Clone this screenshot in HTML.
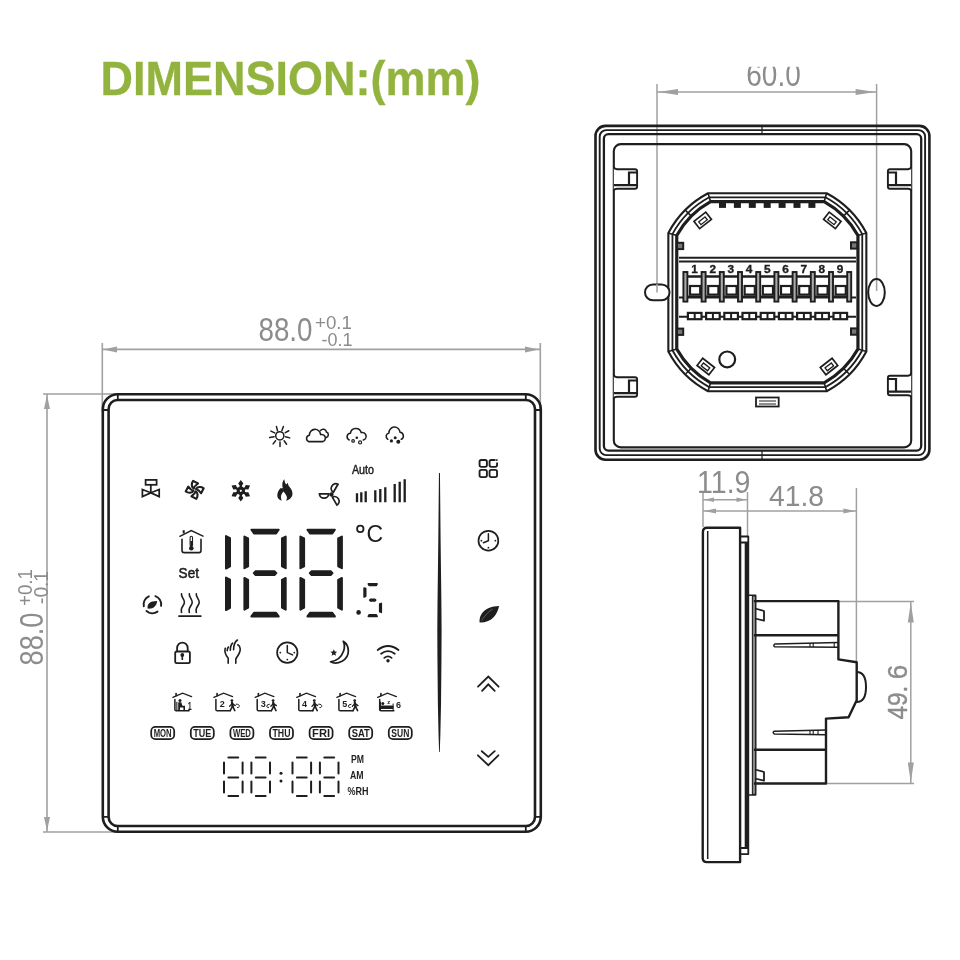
<!DOCTYPE html><html><head><meta charset="utf-8"><style>html,body{margin:0;padding:0;background:#fff}svg{display:block;will-change:transform}text{font-family:"Liberation Sans",sans-serif}</style></head><body>
<svg width="960" height="960" viewBox="0 0 960 960">
<rect width="960" height="960" fill="#fff"/>
<text x="100.4" y="94.8" font-size="48.8" font-weight="bold" fill="#92b33d" stroke="#92b33d" stroke-width="0.3" textLength="380" lengthAdjust="spacingAndGlyphs">DIMENSION:(mm)</text>
<g stroke="#a0a0a0" stroke-width="1.6" fill="none">
<line x1="102.3" y1="343" x2="102.3" y2="412"/>
<line x1="540.3" y1="343" x2="540.3" y2="412"/>
<line x1="102" y1="349.4" x2="540" y2="349.4"/>
<line x1="43" y1="394" x2="118" y2="394"/>
<line x1="43" y1="832" x2="118" y2="832"/>
<line x1="47" y1="394" x2="47" y2="832"/>
</g>
<path d="M103,349.4 L117,346.4 L117,352.4 Z" fill="#a0a0a0"/>
<path d="M539,349.4 L525,346.4 L525,352.4 Z" fill="#a0a0a0"/>
<path d="M47,395 L44,409 L50,409 Z" fill="#a0a0a0"/>
<path d="M47,831 L44,817 L50,817 Z" fill="#a0a0a0"/>
<g fill="#8c8c8c">
<text x="258.5" y="340.8" font-size="33" textLength="54" lengthAdjust="spacingAndGlyphs">88.0</text>
<text x="315" y="329" font-size="18" textLength="37" lengthAdjust="spacingAndGlyphs">+0.1</text>
<text x="321.5" y="345.8" font-size="18" textLength="31" lengthAdjust="spacingAndGlyphs">-0.1</text>
<g transform="translate(43.4,665.5) rotate(-90)"><text x="0" y="0" font-size="33" textLength="53" lengthAdjust="spacingAndGlyphs">88.0</text></g>
<g transform="translate(31.5,606) rotate(-90)"><text x="0" y="0" font-size="19.5" textLength="37" lengthAdjust="spacingAndGlyphs">+0.1</text></g>
<g transform="translate(48.3,604) rotate(-90)"><text x="0" y="0" font-size="19.5" textLength="33" lengthAdjust="spacingAndGlyphs">-0.1</text></g>
</g>
<g stroke="#1e1e1e" stroke-width="2.6" fill="none">
<rect x="102.8" y="394.2" width="438" height="437.6" rx="15" ry="15"/>
<rect x="108.6" y="400" width="426.4" height="426" rx="9" ry="9"/>
<path d="M102.8,410 H108.6 M117.8,394.2 V400 M525.8,394.2 V400 M540.8,410 H535 M102.8,816.8 H108.6 M117.8,831.8 V826 M525.8,831.8 V826 M540.8,816.8 H535" stroke-width="1.8"/>
</g>
<path d="M438.95,473 L438.30,540 L437.55,600 L437.30,630 L437.45,660 L437.90,705 L438.55,735 L439.10,752 L439.80,752 L440.35,735 L441.00,705 L441.45,660 L441.60,630 L441.35,600 L440.60,540 L439.95,473 Z" fill="#1e1e1e"/>
<path d="M226.00,536.07 L230.00,538.20 L230.00,566.40 L226.00,568.53 Z M226.00,577.57 L230.00,579.70 L230.00,607.90 L226.00,610.03 Z" fill="#1e1e1e" stroke="#1e1e1e" stroke-width="2.0" stroke-linejoin="round"/>
<path d="M251.42,529.80 L278.68,529.80 L276.08,533.50 L254.02,533.50 Z M251.42,616.40 L278.68,616.40 L276.08,612.70 L254.02,612.70 Z M253.76,573.10 L255.61,571.25 L274.49,571.25 L276.34,573.10 L274.49,574.95 L255.61,574.95 Z M244.40,536.56 L248.10,538.50 L248.10,566.25 L244.40,568.19 Z M244.40,578.01 L248.10,579.95 L248.10,607.70 L244.40,609.64 Z M285.70,536.56 L282.00,538.50 L282.00,566.25 L285.70,568.19 Z M285.70,578.01 L282.00,579.95 L282.00,607.70 L285.70,609.64 Z" fill="#1e1e1e" stroke="#1e1e1e" stroke-width="2.0" stroke-linejoin="round"/>
<path d="M307.42,529.80 L334.88,529.80 L332.28,533.50 L310.02,533.50 Z M307.42,616.40 L334.88,616.40 L332.28,612.70 L310.02,612.70 Z M309.76,573.10 L311.61,571.25 L330.69,571.25 L332.54,573.10 L330.69,574.95 L311.61,574.95 Z M300.40,536.56 L304.10,538.50 L304.10,566.25 L300.40,568.19 Z M300.40,578.01 L304.10,579.95 L304.10,607.70 L300.40,609.64 Z M341.90,536.56 L338.20,538.50 L338.20,566.25 L341.90,568.19 Z M341.90,578.01 L338.20,579.95 L338.20,607.70 L341.90,609.64 Z" fill="#1e1e1e" stroke="#1e1e1e" stroke-width="2.0" stroke-linejoin="round"/>
<path d="M368.29,583.90 L377.11,583.90 L376.31,585.50 L369.09,585.50 Z M368.29,616.40 L377.11,616.40 L376.31,614.80 L369.09,614.80 Z M369.73,600.15 L370.53,599.35 L374.87,599.35 L375.67,600.15 L374.87,600.95 L370.53,600.95 Z M364.10,587.95 L365.70,588.55 L365.70,596.30 L364.10,596.90 Z M381.30,603.40 L379.70,604.00 L379.70,611.75 L381.30,612.35 Z" fill="#1e1e1e" stroke="#1e1e1e" stroke-width="1.6" stroke-linejoin="round"/>
<circle cx="358.6" cy="612.4" r="2.3" fill="#1e1e1e"/>
<circle cx="360.3" cy="528.9" r="3.2" fill="none" stroke="#1e1e1e" stroke-width="1.8"/>
<text x="366.5" y="542.3" font-size="23" fill="#1e1e1e">C</text>
<path d="M228.4,757.6 H238.2 M228.4,777.5000000000001 H238.2 M228.4,796.0 H238.2 M224.0,762.5 V773.4000000000001 M224.0,781.4000000000001 V792.4 M242.6,762.5 V773.4000000000001 M242.6,781.4000000000001 V792.4" stroke="#1e1e1e" stroke-width="2.0" stroke-linecap="round" fill="none"/>
<path d="M255.8,757.6 H265.6 M255.8,777.5000000000001 H265.6 M255.8,796.0 H265.6 M251.4,762.5 V773.4000000000001 M251.4,781.4000000000001 V792.4 M270.0,762.5 V773.4000000000001 M270.0,781.4000000000001 V792.4" stroke="#1e1e1e" stroke-width="2.0" stroke-linecap="round" fill="none"/>
<path d="M296.9,757.6 H306.70000000000005 M296.9,777.5000000000001 H306.70000000000005 M296.9,796.0 H306.70000000000005 M292.5,762.5 V773.4000000000001 M292.5,781.4000000000001 V792.4 M311.1,762.5 V773.4000000000001 M311.1,781.4000000000001 V792.4" stroke="#1e1e1e" stroke-width="2.0" stroke-linecap="round" fill="none"/>
<path d="M324.29999999999995,757.6 H334.1 M324.29999999999995,777.5000000000001 H334.1 M324.29999999999995,796.0 H334.1 M319.9,762.5 V773.4000000000001 M319.9,781.4000000000001 V792.4 M338.5,762.5 V773.4000000000001 M338.5,781.4000000000001 V792.4" stroke="#1e1e1e" stroke-width="2.0" stroke-linecap="round" fill="none"/>
<circle cx="281" cy="773.2" r="1.5" fill="#1e1e1e"/><circle cx="281" cy="781" r="1.5" fill="#1e1e1e"/>
<g fill="#1e1e1e" font-weight="bold">
<text x="351" y="763" font-size="10" textLength="13" lengthAdjust="spacingAndGlyphs">PM</text>
<text x="350" y="778.6" font-size="10" textLength="13.6" lengthAdjust="spacingAndGlyphs">AM</text>
<text x="347.5" y="795.3" font-size="11.5" textLength="21" lengthAdjust="spacingAndGlyphs">%RH</text>
</g>
<text x="178.6" y="578.4" font-size="15" fill="#1e1e1e" stroke="#1e1e1e" stroke-width="0.55" textLength="20.4" lengthAdjust="spacingAndGlyphs">Set</text>
<text x="351.9" y="474.4" font-size="12" fill="#1e1e1e" stroke="#1e1e1e" stroke-width="0.45" textLength="22" lengthAdjust="spacingAndGlyphs">Auto</text>
<rect x="151.20000000000002" y="726.9" width="23" height="12.2" rx="4.2" fill="none" stroke="#1e1e1e" stroke-width="1.75"/>
<text x="162.70000000000002" y="737" font-size="10.5" font-weight="bold" fill="#1e1e1e" text-anchor="middle" textLength="18" lengthAdjust="spacingAndGlyphs">MON</text>
<rect x="190.8" y="726.9" width="23" height="12.2" rx="4.2" fill="none" stroke="#1e1e1e" stroke-width="1.75"/>
<text x="202.3" y="737" font-size="10.5" font-weight="bold" fill="#1e1e1e" text-anchor="middle" textLength="18" lengthAdjust="spacingAndGlyphs">TUE</text>
<rect x="230.4" y="726.9" width="23" height="12.2" rx="4.2" fill="none" stroke="#1e1e1e" stroke-width="1.75"/>
<text x="241.9" y="737" font-size="10.5" font-weight="bold" fill="#1e1e1e" text-anchor="middle" textLength="18" lengthAdjust="spacingAndGlyphs">WED</text>
<rect x="270.0" y="726.9" width="23" height="12.2" rx="4.2" fill="none" stroke="#1e1e1e" stroke-width="1.75"/>
<text x="281.5" y="737" font-size="10.5" font-weight="bold" fill="#1e1e1e" text-anchor="middle" textLength="18" lengthAdjust="spacingAndGlyphs">THU</text>
<rect x="309.6" y="726.9" width="23" height="12.2" rx="4.2" fill="none" stroke="#1e1e1e" stroke-width="1.75"/>
<text x="321.1" y="737" font-size="10.5" font-weight="bold" fill="#1e1e1e" text-anchor="middle" textLength="18" lengthAdjust="spacingAndGlyphs">FRI</text>
<rect x="349.2" y="726.9" width="23" height="12.2" rx="4.2" fill="none" stroke="#1e1e1e" stroke-width="1.75"/>
<text x="360.7" y="737" font-size="10.5" font-weight="bold" fill="#1e1e1e" text-anchor="middle" textLength="18" lengthAdjust="spacingAndGlyphs">SAT</text>
<rect x="388.8" y="726.9" width="23" height="12.2" rx="4.2" fill="none" stroke="#1e1e1e" stroke-width="1.75"/>
<text x="400.3" y="737" font-size="10.5" font-weight="bold" fill="#1e1e1e" text-anchor="middle" textLength="18" lengthAdjust="spacingAndGlyphs">SUN</text>
<g stroke="#1e1e1e" stroke-width="1.5" stroke-linecap="round" fill="none">
<circle cx="279.8" cy="435.8" r="4.1"/>
<path d="M276.4,426.4 L277.5,430.75 M283.4,426.4 L281.9,430.4 M288.75,430.75 L285.3,432.6 M289.7,437.9 L285.6,436.7 M286.6,444.2 L284.1,440.75 M280,446.4 L280,442 M273.1,443.9 L275.6,440.75 M269.7,437.6 L274.1,436.7 M270.9,431.1 L274.7,432.9"/>
</g>
<g stroke="#1e1e1e" stroke-width="1.55" fill="none" stroke-linecap="round" stroke-linejoin="round">
<path d="M308.6,441.6 A3.3,3.3 0 0 1 309.4,435.3 A5.6,5.6 0 0 1 320.6,434.6 A3.6,3.6 0 0 1 322.8,441.6 Z"/>
<path d="M320.4,430.6 A3.4,3.4 0 0 1 326.5,432.1 A2.8,2.8 0 0 1 326.4,437.4"/>
<path d="M349.2,440 A3.5,3.5 0 0 1 350.4,433.3 A5.5,5.5 0 0 1 361.2,432.6 A3.7,3.7 0 0 1 363.3,440"/>
<path d="M387.8,439.3 A3.5,3.5 0 0 1 389,432.9 A5.5,5.5 0 0 1 400,432.3 A3.7,3.7 0 0 1 401.3,439.3"/>
<circle cx="353.1" cy="440.9" r="1.3" stroke-width="1.2"/><circle cx="360.1" cy="442.4" r="1.5" stroke-width="1.2"/>
</g>
<g fill="#1e1e1e"><circle cx="356.8" cy="437.8" r="1.3"/><circle cx="391.4" cy="440.9" r="1.6"/><circle cx="395.2" cy="437.8" r="1.5"/><circle cx="398.3" cy="441.7" r="2"/></g>
<g stroke="#1e1e1e" stroke-width="1.75" fill="none" stroke-linejoin="miter">
<rect x="145.6" y="479.9" width="11" height="4.9"/>
<path d="M150.8,484.8 V492.7"/>
<path d="M142.4,489.5 L150.8,492.8 L142.4,496.6 Z M159.2,489.5 L150.8,492.8 L159.2,496.6 Z"/>
</g>
<g transform="translate(194.7,489.9)" stroke="#1e1e1e" stroke-width="2.1" fill="none" stroke-linejoin="round">
<path transform="rotate(0)" d="M-0.9,-1.3 C-3.2,-2.6 -3.6,-6.2 -1.6,-9.0 L3.3,-6.4 C1.3,-5.0 -0.5,-3.4 -0.9,-1.3 Z"/>
<path transform="rotate(90)" d="M-0.9,-1.3 C-3.2,-2.6 -3.6,-6.2 -1.6,-9.0 L3.3,-6.4 C1.3,-5.0 -0.5,-3.4 -0.9,-1.3 Z"/>
<path transform="rotate(180)" d="M-0.9,-1.3 C-3.2,-2.6 -3.6,-6.2 -1.6,-9.0 L3.3,-6.4 C1.3,-5.0 -0.5,-3.4 -0.9,-1.3 Z"/>
<path transform="rotate(270)" d="M-0.9,-1.3 C-3.2,-2.6 -3.6,-6.2 -1.6,-9.0 L3.3,-6.4 C1.3,-5.0 -0.5,-3.4 -0.9,-1.3 Z"/>
</g>
<g transform="translate(240.8,490.8)" fill="#1e1e1e">
<path transform="rotate(0)" d="M-1.2,0 L-1.2,-5.2 L-2.6,-7.2 L0,-10.7 L2.6,-7.2 L1.2,-5.2 L1.2,0 Z"/>
<path transform="rotate(60)" d="M-1.2,0 L-1.2,-5.2 L-2.6,-7.2 L0,-10.7 L2.6,-7.2 L1.2,-5.2 L1.2,0 Z"/>
<path transform="rotate(120)" d="M-1.2,0 L-1.2,-5.2 L-2.6,-7.2 L0,-10.7 L2.6,-7.2 L1.2,-5.2 L1.2,0 Z"/>
<path transform="rotate(180)" d="M-1.2,0 L-1.2,-5.2 L-2.6,-7.2 L0,-10.7 L2.6,-7.2 L1.2,-5.2 L1.2,0 Z"/>
<path transform="rotate(240)" d="M-1.2,0 L-1.2,-5.2 L-2.6,-7.2 L0,-10.7 L2.6,-7.2 L1.2,-5.2 L1.2,0 Z"/>
<path transform="rotate(300)" d="M-1.2,0 L-1.2,-5.2 L-2.6,-7.2 L0,-10.7 L2.6,-7.2 L1.2,-5.2 L1.2,0 Z"/>
<circle r="4.2" />
<circle r="1.1" fill="#fff"/>
</g>
<path fill="#1e1e1e" d="M284.5,479.2 C282,481.2 282.1,485 282.8,488.2 L280.3,488.3 C278.5,490.5 276.8,493.5 277.4,496.5 C277.9,498.6 279.5,500.1 281.8,500.7 C281,499 280.6,497 281.3,495 C281.9,493.5 282.9,492.3 283.5,491.6 C284.6,493 286.4,495 286.9,497 C287.2,498.5 286.6,499.9 285.8,500.7 C289,500 291.8,498 292.4,495 C293,491.5 290.7,488 288.6,485.8 L287.7,482.8 L286.3,484.6 C285.1,483 284.3,481.2 284.5,479.2 Z"/>
<g transform="translate(331.45,494.4)" stroke="#1e1e1e" stroke-width="1.75" fill="none">
<path transform="rotate(0)" d="M-12,-0.6 H-2.8 A4.6,4.4 0 0 1 -12,-0.6 Z"/>
<path transform="rotate(120)" d="M-12,-0.6 H-2.8 A4.6,4.4 0 0 1 -12,-0.6 Z"/>
<path transform="rotate(240)" d="M-12,-0.6 H-2.8 A4.6,4.4 0 0 1 -12,-0.6 Z"/>
<circle r="1.3" fill="#1e1e1e"/>
</g>
<path stroke="#1e1e1e" stroke-width="2.3" d="M357,493.3 V502.3 M361.3,492.3 V502.3 M365.7,491.3 V502.3 M375.3,490.3 V502.3 M380.3,489 V502.3 M385.3,487.3 V502.3 M394.7,484 V502.3 M399.7,481.7 V502.3 M404.7,479.3 V502.3"/>
<g stroke="#1e1e1e" stroke-width="1.4" fill="none" stroke-linecap="round">
<path d="M179.8,536.3 L191.3,530.5 L203,536.2"/>
<path d="M182,539.2 V550.5 Q182,552.6 184.2,552.6 H198.9 Q201,552.6 201,550.5 V539.4" stroke-width="1.6"/>
<rect x="182.7" y="530.2" width="2" height="3.2" fill="#1e1e1e" stroke="none"/>
<rect x="190.1" y="536.2" width="2.4" height="10" rx="1.2" stroke-width="1.1"/>
</g>
<circle cx="191.3" cy="548.2" r="2.3" fill="#1e1e1e"/><rect x="190.4" y="541" width="1.8" height="6" fill="#1e1e1e"/>
<g stroke="#1e1e1e" stroke-width="1.6" fill="none" stroke-linecap="round">
<path d="M181.5,593.9 C181.0,597 184.4,599 184.4,602.3 C184.4,605.2 181.2,607 181.3,610 L181.5,612.5"/>
<path d="M189.3,593.9 C188.8,597 192.20000000000002,599 192.20000000000002,602.3 C192.20000000000002,605.2 189.0,607 189.10000000000002,610 L189.3,612.5"/>
<path d="M196.3,593.9 C195.8,597 199.20000000000002,599 199.20000000000002,602.3 C199.20000000000002,605.2 196.0,607 196.10000000000002,610 L196.3,612.5"/>
<path d="M179,616.1 H200.8" stroke-width="1.9"/>
</g>
<path stroke="#1e1e1e" stroke-width="1.9" fill="none" stroke-linecap="round" d="M143.79,606.23 A8.8,8.8 0 0 1 148.82,596.36 M155.41,596.13 A8.8,8.8 0 0 1 161.07,605.93 M157.45,611.61 A8.8,8.8 0 0 1 146.51,610.94"/>
<path fill="#1e1e1e" d="M147.6,608.6 C146.8,603.5 150.5,600.8 157.1,600.9 C156.9,605.5 153.2,609.3 147.6,608.6 Z"/>
<g stroke="#1e1e1e" stroke-width="1.8" fill="none">
<rect x="175.2" y="651.5" width="14.7" height="11.6" rx="1.6"/>
<path d="M177.1,651.5 V648.2 A5.3,5.6 0 0 1 187.7,648.2 V651.5"/>
</g>
<circle cx="182.3" cy="655" r="1.9" fill="#1e1e1e"/><rect x="181.5" y="655" width="1.6" height="5" fill="#1e1e1e"/>
<g stroke="#1e1e1e" stroke-width="1.6" fill="none" stroke-linecap="round">
<path d="M225.2,648.3 C224.3,652 225.8,655.5 228.2,658.2 V663.3"/>
<path d="M235.8,663.3 V659 C236.8,656.5 240.6,653.5 240.2,648.8 C240,646.5 238.8,645.3 237.8,644.8"/>
<path d="M227.2,650.8 C227.2,649 227.8,647.5 228.5,647"/>
<path d="M230.3,650.3 C230.4,647 231.2,644.5 232.6,643.2"/>
<path d="M233.6,649.8 C233.5,645.5 235,641.8 237.4,640"/>
</g>
<g stroke="#1e1e1e" stroke-width="1.7" fill="none" stroke-linecap="round"><circle cx="287.3" cy="652.6" r="10.2"/><path d="M287.3,645.6 V652.6 L292.6,654.9" stroke-width="1.5"/></g><g fill="#1e1e1e"><circle cx="280.3" cy="652.6" r="0.9"/><circle cx="294.3" cy="652.6" r="0.9"/><circle cx="287.3" cy="659.6" r="0.9"/></g>
<g stroke="#1e1e1e" stroke-width="1.7" fill="none" stroke-linecap="round"><circle cx="488.4" cy="540.7" r="9.9"/><path d="M488.4,533.7 V540.7 L483.4,542.8" stroke-width="1.5"/></g><g fill="#1e1e1e"><circle cx="481.4" cy="540.7" r="0.9"/><circle cx="495.4" cy="540.7" r="0.9"/><circle cx="488.4" cy="547.7" r="0.9"/></g>
<path stroke="#1e1e1e" stroke-width="1.75" fill="none" stroke-linejoin="round" d="M343.3,641.3 C349.5,645.5 351,656 342,661.3 C337.5,663.6 333,663.2 330.6,661.8 C337,660.8 341.6,656.5 343.4,651.5 C344.7,648 344.6,644 343.3,641.3 Z"/>
<path fill="#1e1e1e" d="M333.80,649.20 L334.80,651.42 L337.22,651.69 L335.42,653.33 L335.92,655.71 L333.80,654.50 L331.68,655.71 L332.18,653.33 L330.38,651.69 L332.80,651.42 Z"/>
<g stroke="#1e1e1e" stroke-width="1.8" fill="none" stroke-linecap="round">
<path d="M377.7,650 Q388,642 398.5,650"/>
<path d="M381.1,653.8 Q388,648.4 394.8,653.8"/>
<path d="M384.3,657.9 Q388,654.9 391.6,657.9"/>
</g>
<circle cx="388" cy="660.7" r="1.7" fill="#1e1e1e"/>
<g stroke="#1e1e1e" stroke-width="1.3" fill="none" stroke-linecap="round"><path d="M172.9,697.4 L182.6,693.2 L191.6,696.6"/><path d="M174.9,699.5 V709.5 Q174.9,710.8 176.20000000000002,710.8 H189.1" stroke-width="1.5"/><path d="M176.1,693.6 V695.8" stroke-width="1.6"/></g><g fill="#1e1e1e"><circle cx="180" cy="700.4" r="1.5"/><path d="M178.2,702.2 H181.3 L182.4,705.8 H185 V710.6 H183.4 V707.6 H180 V710.6 H178.2 Z"/><rect x="176.3" y="701.8" width="1.1" height="8.8"/></g><text x="189.8" y="709.6" font-size="10" font-weight="bold" fill="#1e1e1e" text-anchor="middle" textLength="4" lengthAdjust="spacingAndGlyphs">1</text>
<g stroke="#1e1e1e" stroke-width="1.3" fill="none" stroke-linecap="round"><path d="M213.9,697.4 L223.6,693.2 L232.6,696.6"/><path d="M215.9,699.5 V709.5 Q215.9,710.8 217.20000000000002,710.8 H230.1" stroke-width="1.5"/><path d="M217.1,693.6 V695.8" stroke-width="1.6"/></g><text x="222.3" y="707.2" font-size="9" font-weight="bold" fill="#1e1e1e" text-anchor="middle">2</text><g stroke="#1e1e1e" fill="none" stroke-linecap="round"><path d="M232.0,702.6 L232.6,706.4" stroke-width="2.3"/><path d="M232.6,706.2 L230.2,710.6 M232.6,706.2 L234.79999999999998,710.6" stroke-width="1.6"/><path d="M232.1,703.6 L229.6,706.2 M232.29999999999998,703.6 L235.2,705.6" stroke-width="1.3"/></g><circle cx="231.89999999999998" cy="700.6" r="1.4" fill="#1e1e1e"/><path d="M235.8,704.2 Q239.8,704 239.20000000000002,706.6 Q238.60000000000002,708 237.0,707.6" stroke="#1e1e1e" stroke-width="1" fill="none"/>
<g stroke="#1e1e1e" stroke-width="1.3" fill="none" stroke-linecap="round"><path d="M255.2,697.4 L264.9,693.2 L273.9,696.6"/><path d="M257.2,699.5 V709.5 Q257.2,710.8 258.5,710.8 H271.4" stroke-width="1.5"/><path d="M258.4,693.6 V695.8" stroke-width="1.6"/></g><text x="263.2" y="707.2" font-size="9" font-weight="bold" fill="#1e1e1e" text-anchor="middle">3</text><path d="M269.8,704.2 Q266.0,704.6 266.8,706.8 Q267.6,707.8 269.0,707.4" stroke="#1e1e1e" stroke-width="1" fill="none"/><g stroke="#1e1e1e" fill="none" stroke-linecap="round"><path d="M273.2,702.6 L273.79999999999995,706.4" stroke-width="2.3"/><path d="M273.79999999999995,706.2 L271.4,710.6 M273.79999999999995,706.2 L276.0,710.6" stroke-width="1.6"/><path d="M273.29999999999995,703.6 L270.79999999999995,706.2 M273.5,703.6 L276.4,705.6" stroke-width="1.3"/></g><circle cx="273.09999999999997" cy="700.6" r="1.4" fill="#1e1e1e"/>
<g stroke="#1e1e1e" stroke-width="1.3" fill="none" stroke-linecap="round"><path d="M296.8,697.4 L306.5,693.2 L315.5,696.6"/><path d="M298.8,699.5 V709.5 Q298.8,710.8 300.1,710.8 H313.0" stroke-width="1.5"/><path d="M300.0,693.6 V695.8" stroke-width="1.6"/></g><text x="304.6" y="707.2" font-size="9" font-weight="bold" fill="#1e1e1e" text-anchor="middle">4</text><g stroke="#1e1e1e" fill="none" stroke-linecap="round"><path d="M314.40000000000003,702.6 L315.0,706.4" stroke-width="2.3"/><path d="M315.0,706.2 L312.6,710.6 M315.0,706.2 L317.20000000000005,710.6" stroke-width="1.6"/><path d="M314.5,703.6 L312.0,706.2 M314.70000000000005,703.6 L317.6,705.6" stroke-width="1.3"/></g><circle cx="314.3" cy="700.6" r="1.4" fill="#1e1e1e"/><path d="M318.2,704.2 Q322.2,704 321.59999999999997,706.6 Q321.0,708 319.4,707.6" stroke="#1e1e1e" stroke-width="1" fill="none"/>
<g stroke="#1e1e1e" stroke-width="1.3" fill="none" stroke-linecap="round"><path d="M336.9,697.4 L346.59999999999997,693.2 L355.59999999999997,696.6"/><path d="M338.9,699.5 V709.5 Q338.9,710.8 340.2,710.8 H353.09999999999997" stroke-width="1.5"/><path d="M340.09999999999997,693.6 V695.8" stroke-width="1.6"/></g><text x="344.8" y="707.2" font-size="9" font-weight="bold" fill="#1e1e1e" text-anchor="middle">5</text><path d="M351.4,704.2 Q347.59999999999997,704.6 348.4,706.8 Q349.2,707.8 350.59999999999997,707.4" stroke="#1e1e1e" stroke-width="1" fill="none"/><g stroke="#1e1e1e" fill="none" stroke-linecap="round"><path d="M354.8,702.6 L355.4,706.4" stroke-width="2.3"/><path d="M355.4,706.2 L353,710.6 M355.4,706.2 L357.6,710.6" stroke-width="1.6"/><path d="M354.9,703.6 L352.4,706.2 M355.1,703.6 L358,705.6" stroke-width="1.3"/></g><circle cx="354.7" cy="700.6" r="1.4" fill="#1e1e1e"/>
<g stroke="#1e1e1e" stroke-width="1.3" fill="none" stroke-linecap="round"><path d="M377.7,697.4 L387.4,693.2 L396.4,696.6"/><path d="M379.7,699.5 V709.5 Q379.7,710.8 381.0,710.8 H393.9" stroke-width="1.5"/><path d="M380.9,693.6 V695.8" stroke-width="1.6"/></g><g fill="#1e1e1e"><rect x="380.3" y="705.6" width="13.2" height="3.4" rx="0.8"/><circle cx="382.8" cy="703.6" r="1.5"/><rect x="379.8" y="701.8" width="1.2" height="8.8"/><rect x="392.6" y="703.6" width="1" height="7"/></g><text x="387.2" y="703.6" font-size="6" font-weight="bold" fill="#1e1e1e">z</text><text x="398.6" y="707.6" font-size="9" font-weight="bold" fill="#1e1e1e" text-anchor="middle">6</text>
<g stroke="#1e1e1e" stroke-width="1.85" fill="none">
<rect x="479.55" y="459.95" width="7.35" height="6.9" rx="1.8"/>
<path d="M495.5,459.95 H491.3 Q489.55,459.95 489.55,461.7 V465.1 Q489.55,466.85 491.3,466.85 H495.3 Q497.05,466.85 497.05,465.1 V462.5"/>
<rect x="479.55" y="469.85" width="7.35" height="7.3" rx="1.8"/>
<rect x="489.55" y="469.85" width="7.5" height="7.3" rx="1.8"/>
</g>
<rect x="496" y="459.3" width="1.6" height="1.6" fill="#1e1e1e"/>
<path fill="#1e1e1e" d="M479.6,622.6 C478.8,615 484,606.5 499.1,606 C497.3,614 492.5,622.8 479.6,622.6 Z"/>
<path d="M481.5,620.5 C484.5,616 488,612 492.5,609" stroke="#888" stroke-width="0.6" fill="none"/>
<g stroke="#1e1e1e" stroke-width="1.8" fill="none" stroke-linecap="round" stroke-linejoin="miter">
<path d="M478,686.7 L488.3,676.5 L498.6,686.7 M482.1,690.9 L488.3,684.3 L494.7,690.9"/>
<path d="M481.8,751.2 L488.3,756.9 L494.7,751.2 M477.9,755.3 L488.3,765.2 L498.4,755.3"/>
</g>
<g stroke="#a0a0a0" stroke-width="1.5" fill="none">
<line x1="657" y1="84" x2="657" y2="292.5"/>
<line x1="876.6" y1="84" x2="876.6" y2="291"/>
<line x1="657" y1="92" x2="876.6" y2="92"/>
</g>
<path d="M658,92 L678,89 L678,95 Z" fill="#a0a0a0"/>
<path d="M875.6,92 L855.6,89 L855.6,95 Z" fill="#a0a0a0"/>
<text x="746.3" y="85.9" font-size="33" fill="#8c8c8c" textLength="54.5" lengthAdjust="spacingAndGlyphs">60.0</text>
<rect x="700" y="50" width="120" height="16.8" fill="#fff"/>
<g stroke="#1e1e1e" fill="none">
<rect x="595.5" y="125.9" width="333.9" height="333.8" rx="10" stroke-width="2.6"/>
<rect x="599.7" y="130.1" width="325.4" height="325" rx="6.5" stroke-width="1.9"/>
<rect x="603.9" y="134.2" width="317.3" height="316.4" rx="4.5" stroke-width="2.3"/>
<rect x="613.8" y="144.1" width="297.4" height="303.3" rx="7" stroke-width="2.1"/>
<path d="M762,126 V134 M762,450.6 V459.7" stroke-width="1.2"/>
</g>
<g stroke="#1e1e1e" fill="#fff" stroke-width="1.9"><path d="M613.8,166.5 Q614,169.2 617,169.2 H635 Q637.1,169.2 637.1,171.5 V186.5 Q637.1,188.8 635,188.8 H617.5 Q614,188.8 613.8,191"/><path d="M614,185.2 H637 M629,185.2 V172.5 H637" stroke-width="2.2" fill="none"/></g>
<g stroke="#1e1e1e" fill="#fff" stroke-width="1.9"><path d="M613.8,374.5 Q614,377.2 617,377.2 H635 Q637.1,377.2 637.1,379.5 V394.5 Q637.1,396.8 635,396.8 H617.5 Q614,396.8 613.8,399"/><path d="M614,393.2 H637 M629,393.2 V380.5 H637" stroke-width="2.2" fill="none"/></g>
<g transform="translate(1525,0) scale(-1,1)"><g stroke="#1e1e1e" fill="#fff" stroke-width="1.9"><path d="M613.8,166.5 Q614,169.2 617,169.2 H635 Q637.1,169.2 637.1,171.5 V186.5 Q637.1,188.8 635,188.8 H617.5 Q614,188.8 613.8,191"/><path d="M614,185.2 H637 M629,185.2 V172.5 H637" stroke-width="2.2" fill="none"/></g><g stroke="#1e1e1e" fill="#fff" stroke-width="1.9"><path d="M613.8,373.0 Q614,375.7 617,375.7 H635 Q637.1,375.7 637.1,378.0 V393.0 Q637.1,395.3 635,395.3 H617.5 Q614,395.3 613.8,397.5"/><path d="M614,391.7 H637 M629,391.7 V379.0 H637" stroke-width="2.2" fill="none"/></g></g>
<g fill="none" stroke="#1e1e1e">
<path d="M708.0500000000001,193.2 H826.65 A95,95 0 0 1 866.35,232.89999999999998 V351.5 A95,95 0 0 1 826.65,391.2 H708.0500000000001 A95,95 0 0 1 668.35,351.5 V232.89999999999998 A95,95 0 0 1 708.0500000000001,193.2 Z" stroke-width="2.1"/>
<path d="M709.25,197.29999999999998 H825.45 A90.8,90.8 0 0 1 862.25,234.1 V350.3 A90.8,90.8 0 0 1 825.45,387.1 H709.25 A90.8,90.8 0 0 1 672.45,350.3 V234.1 A90.8,90.8 0 0 1 709.25,197.29999999999998 Z" stroke-width="1.8"/>
<path d="M710.5500000000001,201.6 H824.15 A86.5,86.5 0 0 1 857.95,235.39999999999998 V349.0 A86.5,86.5 0 0 1 824.15,382.79999999999995 H710.5500000000001 A86.5,86.5 0 0 1 676.75,349.0 V235.39999999999998 A86.5,86.5 0 0 1 710.5500000000001,201.6 Z" stroke-width="3.2"/>
<path d="M708.05,193.20 L710.55,201.60 M668.35,232.90 L676.75,235.40 M685.75,210.60 L690.55,215.40 M708.05,391.20 L710.55,382.80 M668.35,351.50 L676.75,349.00 M685.75,373.80 L690.55,369.00 M826.65,193.20 L824.15,201.60 M866.35,232.90 L857.95,235.40 M848.95,210.60 L844.15,215.40 M826.65,391.20 L824.15,382.80 M866.35,351.50 L857.95,349.00 M848.95,373.80 L844.15,369.00" stroke-width="1.6"/>
</g>
<rect x="645" y="284.5" width="24.5" height="15.8" rx="7.9" fill="#fff" stroke="#1e1e1e" stroke-width="2"/>
<ellipse cx="876.5" cy="292.5" rx="8.3" ry="13.4" fill="none" stroke="#1e1e1e" stroke-width="2"/>
<line x1="657" y1="284" x2="657" y2="292.5" stroke="#a0a0a0" stroke-width="1.5"/>
<rect x="719.0" y="202.5" width="7" height="5.4" fill="#1e1e1e"/>
<rect x="733.9" y="202.5" width="7" height="5.4" fill="#1e1e1e"/>
<rect x="748.8" y="202.5" width="7" height="5.4" fill="#1e1e1e"/>
<rect x="763.7" y="202.5" width="7" height="5.4" fill="#1e1e1e"/>
<rect x="778.6" y="202.5" width="7" height="5.4" fill="#1e1e1e"/>
<rect x="793.5" y="202.5" width="7" height="5.4" fill="#1e1e1e"/>
<rect x="808.4" y="202.5" width="7" height="5.4" fill="#1e1e1e"/>
<rect x="677" y="242.8" width="6.2" height="6.3" fill="#777" stroke="#1e1e1e" stroke-width="2"/>
<rect x="677" y="328.6" width="6.2" height="6.3" fill="#777" stroke="#1e1e1e" stroke-width="2"/>
<rect x="851" y="242.3" width="6.2" height="6.3" fill="#777" stroke="#1e1e1e" stroke-width="2"/>
<rect x="851" y="328.4" width="6.2" height="6.3" fill="#777" stroke="#1e1e1e" stroke-width="2"/>
<g transform="translate(702.7,220.4) rotate(-38)"><rect x="-7.5" y="-4.6" width="15" height="9.2" fill="none" stroke="#1e1e1e" stroke-width="1.7"/><rect x="-4" y="-1.3" width="8" height="3.6" fill="none" stroke="#1e1e1e" stroke-width="1.3"/></g>
<g transform="translate(832.3,220.4) rotate(38)"><rect x="-7.5" y="-4.6" width="15" height="9.2" fill="none" stroke="#1e1e1e" stroke-width="1.7"/><rect x="-4" y="-1.3" width="8" height="3.6" fill="none" stroke="#1e1e1e" stroke-width="1.3"/></g>
<g transform="translate(705.8,366.5) rotate(38)"><rect x="-7.5" y="-4.6" width="15" height="9.2" fill="none" stroke="#1e1e1e" stroke-width="1.7"/><rect x="-4" y="-1.3" width="8" height="3.6" fill="none" stroke="#1e1e1e" stroke-width="1.3"/></g>
<g transform="translate(829,366.5) rotate(-38)"><rect x="-7.5" y="-4.6" width="15" height="9.2" fill="none" stroke="#1e1e1e" stroke-width="1.7"/><rect x="-4" y="-1.3" width="8" height="3.6" fill="none" stroke="#1e1e1e" stroke-width="1.3"/></g>
<circle cx="727.2" cy="359.4" r="7.9" fill="none" stroke="#1e1e1e" stroke-width="2.2"/>
<rect x="756" y="397.5" width="22.7" height="9" fill="none" stroke="#1e1e1e" stroke-width="1.8"/>
<path d="M759,401 H776 M759,404 H776" stroke="#1e1e1e" stroke-width="1"/>
<g stroke="#1e1e1e" fill="none">
<path d="M679,257.8 H856 M679,261.5 H856" stroke-width="2"/>
<path d="M679,297.4 H856" stroke-width="2"/>
<path d="M679,316.7 H856" stroke-width="2"/>
</g>
<path d="M687.4,276.5 H701.6 M687.4,296.8 H701.6" stroke="#1e1e1e" stroke-width="2.6"/>
<rect x="690.0" y="286" width="10.2" height="8.6" fill="none" stroke="#1e1e1e" stroke-width="2.2"/>
<text x="694.5" y="273" font-size="11.8" font-weight="bold" fill="#1e1e1e" stroke="#1e1e1e" stroke-width="0.35" text-anchor="middle">1</text>
<rect x="687.9" y="312.9" width="13.6" height="6.3" fill="#fff" stroke="#1e1e1e" stroke-width="2.2"/>
<line x1="694.6999999999999" y1="312.8" x2="694.6999999999999" y2="319.2" stroke="#1e1e1e" stroke-width="2"/>
<path d="M705.6,276.5 H719.8000000000001 M705.6,296.8 H719.8000000000001" stroke="#1e1e1e" stroke-width="2.6"/>
<rect x="708.2" y="286" width="10.2" height="8.6" fill="none" stroke="#1e1e1e" stroke-width="2.2"/>
<text x="712.7" y="273" font-size="11.8" font-weight="bold" fill="#1e1e1e" stroke="#1e1e1e" stroke-width="0.35" text-anchor="middle">2</text>
<rect x="706.1" y="312.9" width="13.6" height="6.3" fill="#fff" stroke="#1e1e1e" stroke-width="2.2"/>
<line x1="712.9" y1="312.8" x2="712.9" y2="319.2" stroke="#1e1e1e" stroke-width="2"/>
<path d="M723.8,276.5 H738.0 M723.8,296.8 H738.0" stroke="#1e1e1e" stroke-width="2.6"/>
<rect x="726.4" y="286" width="10.2" height="8.6" fill="none" stroke="#1e1e1e" stroke-width="2.2"/>
<text x="730.9" y="273" font-size="11.8" font-weight="bold" fill="#1e1e1e" stroke="#1e1e1e" stroke-width="0.35" text-anchor="middle">3</text>
<rect x="724.3" y="312.9" width="13.6" height="6.3" fill="#fff" stroke="#1e1e1e" stroke-width="2.2"/>
<line x1="731.0999999999999" y1="312.8" x2="731.0999999999999" y2="319.2" stroke="#1e1e1e" stroke-width="2"/>
<path d="M742.0,276.5 H756.2 M742.0,296.8 H756.2" stroke="#1e1e1e" stroke-width="2.6"/>
<rect x="744.6" y="286" width="10.2" height="8.6" fill="none" stroke="#1e1e1e" stroke-width="2.2"/>
<text x="749.1" y="273" font-size="11.8" font-weight="bold" fill="#1e1e1e" stroke="#1e1e1e" stroke-width="0.35" text-anchor="middle">4</text>
<rect x="742.5" y="312.9" width="13.6" height="6.3" fill="#fff" stroke="#1e1e1e" stroke-width="2.2"/>
<line x1="749.3" y1="312.8" x2="749.3" y2="319.2" stroke="#1e1e1e" stroke-width="2"/>
<path d="M760.1999999999999,276.5 H774.4 M760.1999999999999,296.8 H774.4" stroke="#1e1e1e" stroke-width="2.6"/>
<rect x="762.8" y="286" width="10.2" height="8.6" fill="none" stroke="#1e1e1e" stroke-width="2.2"/>
<text x="767.3" y="273" font-size="11.8" font-weight="bold" fill="#1e1e1e" stroke="#1e1e1e" stroke-width="0.35" text-anchor="middle">5</text>
<rect x="760.6999999999999" y="312.9" width="13.6" height="6.3" fill="#fff" stroke="#1e1e1e" stroke-width="2.2"/>
<line x1="767.4999999999999" y1="312.8" x2="767.4999999999999" y2="319.2" stroke="#1e1e1e" stroke-width="2"/>
<path d="M778.4,276.5 H792.6 M778.4,296.8 H792.6" stroke="#1e1e1e" stroke-width="2.6"/>
<rect x="781.0" y="286" width="10.2" height="8.6" fill="none" stroke="#1e1e1e" stroke-width="2.2"/>
<text x="785.5" y="273" font-size="11.8" font-weight="bold" fill="#1e1e1e" stroke="#1e1e1e" stroke-width="0.35" text-anchor="middle">6</text>
<rect x="778.9" y="312.9" width="13.6" height="6.3" fill="#fff" stroke="#1e1e1e" stroke-width="2.2"/>
<line x1="785.6999999999999" y1="312.8" x2="785.6999999999999" y2="319.2" stroke="#1e1e1e" stroke-width="2"/>
<path d="M796.5999999999999,276.5 H810.8 M796.5999999999999,296.8 H810.8" stroke="#1e1e1e" stroke-width="2.6"/>
<rect x="799.1999999999999" y="286" width="10.2" height="8.6" fill="none" stroke="#1e1e1e" stroke-width="2.2"/>
<text x="803.6999999999999" y="273" font-size="11.8" font-weight="bold" fill="#1e1e1e" stroke="#1e1e1e" stroke-width="0.35" text-anchor="middle">7</text>
<rect x="797.0999999999999" y="312.9" width="13.6" height="6.3" fill="#fff" stroke="#1e1e1e" stroke-width="2.2"/>
<line x1="803.8999999999999" y1="312.8" x2="803.8999999999999" y2="319.2" stroke="#1e1e1e" stroke-width="2"/>
<path d="M814.8,276.5 H829.0 M814.8,296.8 H829.0" stroke="#1e1e1e" stroke-width="2.6"/>
<rect x="817.4" y="286" width="10.2" height="8.6" fill="none" stroke="#1e1e1e" stroke-width="2.2"/>
<text x="821.9" y="273" font-size="11.8" font-weight="bold" fill="#1e1e1e" stroke="#1e1e1e" stroke-width="0.35" text-anchor="middle">8</text>
<rect x="815.3" y="312.9" width="13.6" height="6.3" fill="#fff" stroke="#1e1e1e" stroke-width="2.2"/>
<line x1="822.0999999999999" y1="312.8" x2="822.0999999999999" y2="319.2" stroke="#1e1e1e" stroke-width="2"/>
<path d="M833.0,276.5 H847.2 M833.0,296.8 H847.2" stroke="#1e1e1e" stroke-width="2.6"/>
<rect x="835.6" y="286" width="10.2" height="8.6" fill="none" stroke="#1e1e1e" stroke-width="2.2"/>
<text x="840.1" y="273" font-size="11.8" font-weight="bold" fill="#1e1e1e" stroke="#1e1e1e" stroke-width="0.35" text-anchor="middle">9</text>
<rect x="833.5" y="312.9" width="13.6" height="6.3" fill="#fff" stroke="#1e1e1e" stroke-width="2.2"/>
<line x1="840.3" y1="312.8" x2="840.3" y2="319.2" stroke="#1e1e1e" stroke-width="2"/>
<rect x="683.4" y="272" width="4" height="29.6" fill="#aaa" stroke="#1e1e1e" stroke-width="1.9"/>
<rect x="701.6" y="272" width="4" height="29.6" fill="#aaa" stroke="#1e1e1e" stroke-width="1.9"/>
<rect x="719.8" y="272" width="4" height="29.6" fill="#aaa" stroke="#1e1e1e" stroke-width="1.9"/>
<rect x="738.0" y="272" width="4" height="29.6" fill="#aaa" stroke="#1e1e1e" stroke-width="1.9"/>
<rect x="756.1999999999999" y="272" width="4" height="29.6" fill="#aaa" stroke="#1e1e1e" stroke-width="1.9"/>
<rect x="774.4" y="272" width="4" height="29.6" fill="#aaa" stroke="#1e1e1e" stroke-width="1.9"/>
<rect x="792.5999999999999" y="272" width="4" height="29.6" fill="#aaa" stroke="#1e1e1e" stroke-width="1.9"/>
<rect x="810.8" y="272" width="4" height="29.6" fill="#aaa" stroke="#1e1e1e" stroke-width="1.9"/>
<rect x="829.0" y="272" width="4" height="29.6" fill="#aaa" stroke="#1e1e1e" stroke-width="1.9"/>
<rect x="847.1999999999999" y="272" width="4" height="29.6" fill="#aaa" stroke="#1e1e1e" stroke-width="1.9"/>
<g stroke="#a0a0a0" stroke-width="1.5" fill="none">
<line x1="703" y1="492" x2="703" y2="527"/>
<line x1="747.5" y1="492" x2="747.5" y2="536"/>
<line x1="856.4" y1="488" x2="856.4" y2="662"/>
<line x1="703" y1="499.8" x2="747.5" y2="499.8"/>
<line x1="703" y1="511" x2="856.4" y2="511"/>
<line x1="838" y1="601.5" x2="914" y2="601.5"/>
<line x1="826" y1="783.5" x2="914" y2="783.5"/>
<line x1="910.8" y1="601.5" x2="910.8" y2="783.5"/>
</g>
<path d="M704,499.8 L714,497.6 L714,502.0 Z" fill="#a0a0a0"/>
<path d="M746.5,499.8 L736.5,497.6 L736.5,502.0 Z" fill="#a0a0a0"/>
<path d="M704,511 L716,508.5 L716,513.5 Z" fill="#a0a0a0"/>
<path d="M855.4,511 L843.4,508.5 L843.4,513.5 Z" fill="#a0a0a0"/>
<path d="M910.8,602.5 L907.8,622.5 L913.8,622.5 Z" fill="#a0a0a0"/>
<path d="M910.8,782.5 L907.8,762.5 L913.8,762.5 Z" fill="#a0a0a0"/>
<g fill="#8c8c8c">
<text x="697" y="492.9" font-size="31.5" textLength="53.5" lengthAdjust="spacingAndGlyphs">11.9</text>
<text x="769" y="506" font-size="30" textLength="55" lengthAdjust="spacingAndGlyphs">41.8</text>
<g transform="translate(907,719.1) rotate(-90)"><text x="-0.5" y="0" font-size="27.5" stroke="#8c8c8c" stroke-width="0.4" textLength="34" lengthAdjust="spacingAndGlyphs">49.</text><text x="39.8" y="0" font-size="27.5" stroke="#8c8c8c" stroke-width="0.4" textLength="14.5" lengthAdjust="spacingAndGlyphs">6</text></g>
</g>
<g stroke="#1e1e1e" fill="none" stroke-width="2.4" stroke-linejoin="round">
<path d="M702.9,532 Q702.9,527.7 707,527.7 H740.1 V862.1 H707 Q702.7,862.1 702.7,858 Z"/>
<path d="M707.7,531 V859" stroke-width="1.5"/>
<path d="M740.1,536.5 H748.3 V854.1 H740.1 M740.1,542.5 H748.3 M740.1,848 H748.3" stroke-width="1.8"/>
<path d="M746.5,542 V848" stroke-width="3.6"/>
<path d="M748.3,595.3 H755.6 V795 H748.3" stroke-width="1.6"/>
<rect x="752.4" y="596" width="3.2" height="198.4" fill="#888" stroke="#222" stroke-width="1.1"/>
<path d="M753.9,601.1 H838.4 V659.4 L856.7,662.3 V700.2 L848.6,717.2 L826,718.6 V783.5 H753.9"/>
<path d="M753.9,635.3 H838.4 M753.9,749.7 H826"/>
<path d="M856.7,672 Q866,672 866,687 Q866,702 856.7,702" stroke-width="2"/>
<path d="M755,608.5 L764,611 V620.7 L755,618.5 M755,769.5 L764,772 V780.7 L755,778.5" stroke-width="1.8"/>
<path d="M838.4,642.6 L774.8,644 Q772.8,645.4 774.8,646.8 L838.4,647.3 M826,730 L774.2,731.2 Q772.2,732.5 774.2,733.9 L826,734.7" stroke-width="1.5"/>
<path d="M810,642.9 V647 M813.2,642.8 V647.1 M834.2,642.6 V647.2 M810,730.7 V734.3 M813.2,730.6 V734.4 M818,730.5 V734.5" stroke-width="1.1"/>
</g>
</svg></body></html>
